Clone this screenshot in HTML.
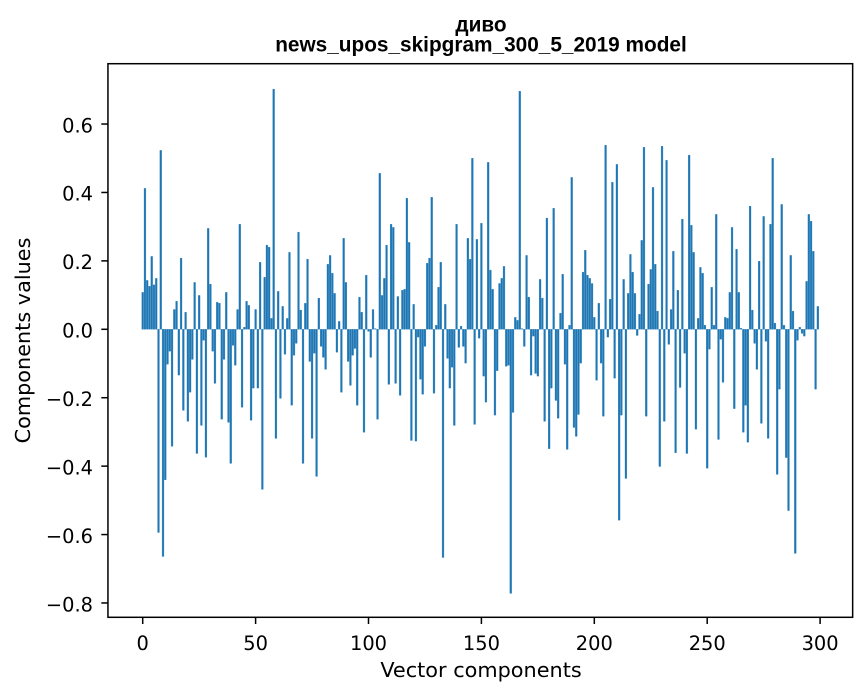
<!DOCTYPE html>
<html><head><meta charset="utf-8"><style>
html,body{margin:0;padding:0;background:#fff}
svg{display:block}
.t{font-family:"DejaVu Sans","Liberation Sans",sans-serif;font-size:19.4px;fill:#000}
.l{font-family:"DejaVu Sans","Liberation Sans",sans-serif;font-size:20.8px;fill:#000}
.ti{font-family:"Liberation Sans","DejaVu Sans",sans-serif;font-size:20.8px;font-weight:bold;fill:#000}
</style></head><body>
<svg width="867" height="696" viewBox="0 0 867 696" xmlns="http://www.w3.org/2000/svg">
<rect x="0" y="0" width="867" height="696" fill="#fff"/>
<g transform="translate(142.7,329.3) scale(2.258,-342.1)">
<path fill="#1f77b4" stroke="#1f77b4" stroke-width="0.3" vector-effect="non-scaling-stroke" d="
M-.4 0h.8v.108h-.8z M.6 0h.8v.412h-.8z M1.6 0h.8v.143h-.8z M2.6 0h.8v.126h-.8z M3.6 0h.8v.213h-.8z
M4.6 0h.8v.13h-.8z M5.6 0h.8v.149h-.8z M6.6 0h.8v-.594h-.8z M7.6 0h.8v.523h-.8z M8.6 0h.8v-.664h-.8z
M9.6 0h.8v-.44h-.8z M10.6 0h.8v-.102h-.8z M11.6 0h.8v-.064h-.8z M12.6 0h.8v-.342h-.8z M13.6 0h.8v.058h-.8z
M14.6 0h.8v.082h-.8z M15.6 0h.8v-.134h-.8z M16.6 0h.8v.208h-.8z M17.6 0h.8v-.237h-.8z M18.6 0h.8v.05h-.8z
M19.6 0h.8v-.269h-.8z M20.6 0h.8v-.184h-.8z M21.6 0h.8v-.088h-.8z M22.6 0h.8v.137h-.8z M23.6 0h.8v-.363h-.8z
M24.6 0h.8v.099h-.8z M25.6 0h.8v-.281h-.8z M26.6 0h.8v-.032h-.8z M27.6 0h.8v-.374h-.8z M28.6 0h.8v.295h-.8z
M29.6 0h.8v.132h-.8z M30.6 0h.8v-.064h-.8z M31.6 0h.8v-.158h-.8z M32.6 0h.8v.079h-.8z M33.6 0h.8v.076h-.8z
M34.6 0h.8v-.263h-.8z M35.6 0h.8v-.088h-.8z M36.6 0h.8v.108h-.8z M37.6 0h.8v-.272h-.8z M38.6 0h.8v-.392h-.8z
M39.6 0h.8v-.047h-.8z M40.6 0h.8v-.105h-.8z M41.6 0h.8v.058h-.8z M42.6 0h.8v.307h-.8z M43.6 0h.8v-.228h-.8z
M44.6 0h.8v.006h-.8z M45.6 0h.8v.082h-.8z M46.6 0h.8v.07h-.8z M47.6 0h.8v-.266h-.8z M48.6 0h.8v-.172h-.8z
M49.6 0h.8v.058h-.8z M50.6 0h.8v-.172h-.8z M51.6 0h.8v.196h-.8z M52.6 0h.8v-.468h-.8z M53.6 0h.8v.152h-.8z
M54.6 0h.8v.246h-.8z M55.6 0h.8v.24h-.8z M56.6 0h.8v.032h-.8z M57.6 0h.8v.702h-.8z M58.6 0h.8v-.319h-.8z
M59.6 0h.8v.111h-.8z M60.6 0h.8v-.202h-.8z M61.6 0h.8v.067h-.8z M62.6 0h.8v-.073h-.8z M63.6 0h.8v.032h-.8z
M64.6 0h.8v.225h-.8z M65.6 0h.8v-.222h-.8z M66.6 0h.8v-.076h-.8z M67.6 0h.8v-.041h-.8z M68.6 0h.8v.284h-.8z
M69.6 0h.8v.056h-.8z M70.6 0h.8v-.392h-.8z M71.6 0h.8v.076h-.8z M72.6 0h.8v.205h-.8z M73.6 0h.8v-.094h-.8z
M74.6 0h.8v-.319h-.8z M75.6 0h.8v-.07h-.8z M76.6 0h.8v-.43h-.8z M77.6 0h.8v.091h-.8z M78.6 0h.8v-.05h-.8z
M79.6 0h.8v-.082h-.8z M80.6 0h.8v-.117h-.8z M81.6 0h.8v.19h-.8z M82.6 0h.8v.216h-.8z M83.6 0h.8v.164h-.8z
M84.6 0h.8v.105h-.8z M85.6 0h.8v-.067h-.8z M86.6 0h.8v.023h-.8z M87.6 0h.8v-.184h-.8z M88.6 0h.8v.266h-.8z
M89.6 0h.8v.137h-.8z M90.6 0h.8v-.094h-.8z M91.6 0h.8v-.164h-.8z M92.6 0h.8v-.076h-.8z M93.6 0h.8v-.056h-.8z
M94.6 0h.8v-.222h-.8z M95.6 0h.8v.094h-.8z M96.6 0h.8v.05h-.8z M97.6 0h.8v-.301h-.8z M98.6 0h.8v.158h-.8z
M99.6 0h.8v-.006h-.8z M100.6 0h.8v-.082h-.8z M101.6 0h.8v.058h-.8z M102.6 0h.8v.002h-.8z M103.6 0h.8v-.263h-.8z
M104.6 0h.8v.456h-.8z M105.6 0h.8v.099h-.8z M106.6 0h.8v.149h-.8z M107.6 0h.8v.246h-.8z M108.6 0h.8v-.161h-.8z
M109.6 0h.8v.307h-.8z M110.6 0h.8v.298h-.8z M111.6 0h.8v-.158h-.8z M112.6 0h.8v.096h-.8z M113.6 0h.8v-.193h-.8z
M114.6 0h.8v.114h-.8z M115.6 0h.8v.117h-.8z M116.6 0h.8v.383h-.8z M117.6 0h.8v.254h-.8z M118.6 0h.8v-.325h-.8z
M119.6 0h.8v.073h-.8z M120.6 0h.8v-.327h-.8z M121.6 0h.8v-.023h-.8z M122.6 0h.8v-.146h-.8z M123.6 0h.8v-.19h-.8z
M124.6 0h.8v-.05h-.8z M125.6 0h.8v.193h-.8z M126.6 0h.8v.208h-.8z M127.6 0h.8v.386h-.8z M128.6 0h.8v-.187h-.8z
M129.6 0h.8v.012h-.8z M130.6 0h.8v.123h-.8z M131.6 0h.8v.196h-.8z M132.6 0h.8v-.667h-.8z M133.6 0h.8v.073h-.8z
M134.6 0h.8v-.085h-.8z M135.6 0h.8v-.172h-.8z M136.6 0h.8v-.111h-.8z M137.6 0h.8v-.281h-.8z M138.6 0h.8v.307h-.8z
M139.6 0h.8v-.053h-.8z M140.6 0h.8v.009h-.8z M141.6 0h.8v-.05h-.8z M142.6 0h.8v-.099h-.8z M143.6 0h.8v.266h-.8z
M144.6 0h.8v.205h-.8z M145.6 0h.8v.5h-.8z M146.6 0h.8v-.278h-.8z M147.6 0h.8v.263h-.8z M148.6 0h.8v-.026h-.8z
M149.6 0h.8v.31h-.8z M150.6 0h.8v-.137h-.8z M151.6 0h.8v-.213h-.8z M152.6 0h.8v.488h-.8z M153.6 0h.8v.173h-.8z
M154.6 0h.8v.117h-.8z M155.6 0h.8v-.251h-.8z M156.6 0h.8v-.121h-.8z M157.6 0h.8v.134h-.8z M158.6 0h.8v.149h-.8z
M159.6 0h.8v.184h-.8z M160.6 0h.8v-.108h-.8z M161.6 0h.8v-.105h-.8z M162.6 0h.8v-.772h-.8z M163.6 0h.8v-.243h-.8z
M164.6 0h.8v.035h-.8z M165.6 0h.8v.026h-.8z M166.6 0h.8v.696h-.8z M167.6 0h.8v.002h-.8z M168.6 0h.8v-.05h-.8z
M169.6 0h.8v.216h-.8z M170.6 0h.8v.094h-.8z M171.6 0h.8v-.134h-.8z M172.6 0h.8v-.02h-.8z M173.6 0h.8v-.129h-.8z
M174.6 0h.8v-.137h-.8z M175.6 0h.8v.146h-.8z M176.6 0h.8v.091h-.8z M177.6 0h.8v-.269h-.8z M178.6 0h.8v.325h-.8z
M179.6 0h.8v-.349h-.8z M180.6 0h.8v-.172h-.8z M181.6 0h.8v.354h-.8z M182.6 0h.8v-.208h-.8z M183.6 0h.8v-.26h-.8z
M184.6 0h.8v.047h-.8z M185.6 0h.8v.161h-.8z M186.6 0h.8v-.102h-.8z M187.6 0h.8v-.351h-.8z M188.6 0h.8v.012h-.8z
M189.6 0h.8v.444h-.8z M190.6 0h.8v-.287h-.8z M191.6 0h.8v-.313h-.8z M192.6 0h.8v-.249h-.8z M193.6 0h.8v-.099h-.8z
M194.6 0h.8v.167h-.8z M195.6 0h.8v.231h-.8z M196.6 0h.8v.158h-.8z M197.6 0h.8v.149h-.8z M198.6 0h.8v.134h-.8z
M199.6 0h.8v.035h-.8z M200.6 0h.8v-.149h-.8z M201.6 0h.8v.076h-.8z M202.6 0h.8v-.099h-.8z M203.6 0h.8v-.254h-.8z
M204.6 0h.8v.538h-.8z M205.6 0h.8v-.023h-.8z M206.6 0h.8v.088h-.8z M207.6 0h.8v.43h-.8z M208.6 0h.8v-.143h-.8z
M209.6 0h.8v.482h-.8z M210.6 0h.8v-.558h-.8z M211.6 0h.8v-.251h-.8z M212.6 0h.8v.146h-.8z M213.6 0h.8v-.436h-.8z
M214.6 0h.8v.105h-.8z M215.6 0h.8v.219h-.8z M216.6 0h.8v.167h-.8z M217.6 0h.8v.105h-.8z M218.6 0h.8v-.018h-.8z
M219.6 0h.8v.044h-.8z M220.6 0h.8v.26h-.8z M221.6 0h.8v.532h-.8z M222.6 0h.8v-.254h-.8z M223.6 0h.8v.132h-.8z
M224.6 0h.8v.175h-.8z M225.6 0h.8v.415h-.8z M226.6 0h.8v.19h-.8z M227.6 0h.8v.053h-.8z M228.6 0h.8v-.401h-.8z
M229.6 0h.8v.535h-.8z M230.6 0h.8v-.269h-.8z M231.6 0h.8v.494h-.8z M232.6 0h.8v-.044h-.8z M233.6 0h.8v.058h-.8z
M234.6 0h.8v.228h-.8z M235.6 0h.8v-.361h-.8z M236.6 0h.8v.114h-.8z M237.6 0h.8v-.17h-.8z M238.6 0h.8v.322h-.8z
M239.6 0h.8v-.07h-.8z M240.6 0h.8v-.363h-.8z M241.6 0h.8v.509h-.8z M242.6 0h.8v.304h-.8z M243.6 0h.8v.225h-.8z
M244.6 0h.8v-.292h-.8z M245.6 0h.8v.032h-.8z M246.6 0h.8v.181h-.8z M247.6 0h.8v.164h-.8z M248.6 0h.8v.012h-.8z
M249.6 0h.8v-.406h-.8z M250.6 0h.8v-.058h-.8z M251.6 0h.8v.123h-.8z M252.6 0h.8v.012h-.8z M253.6 0h.8v.336h-.8z
M254.6 0h.8v-.322h-.8z M255.6 0h.8v-.029h-.8z M256.6 0h.8v-.155h-.8z M257.6 0h.8v.035h-.8z M258.6 0h.8v.032h-.8z
M259.6 0h.8v.108h-.8z M260.6 0h.8v.298h-.8z M261.6 0h.8v-.232h-.8z M262.6 0h.8v.234h-.8z M263.6 0h.8v.108h-.8z
M264.6 0h.8v.003h-.8z M265.6 0h.8v-.301h-.8z M266.6 0h.8v-.222h-.8z M267.6 0h.8v-.33h-.8z M268.6 0h.8v.36h-.8z
M269.6 0h.8v.056h-.8z M270.6 0h.8v-.041h-.8z M271.6 0h.8v-.117h-.8z M272.6 0h.8v.199h-.8z M273.6 0h.8v-.275h-.8z
M274.6 0h.8v.33h-.8z M275.6 0h.8v-.035h-.8z M276.6 0h.8v-.319h-.8z M277.6 0h.8v.307h-.8z M278.6 0h.8v.5h-.8z
M279.6 0h.8v.018h-.8z M280.6 0h.8v-.424h-.8z M281.6 0h.8v-.175h-.8z M282.6 0h.8v.365h-.8z M283.6 0h.8v.012h-.8z
M284.6 0h.8v-.375h-.8z M285.6 0h.8v-.53h-.8z M286.6 0h.8v.216h-.8z M287.6 0h.8v.053h-.8z M288.6 0h.8v-.655h-.8z
M289.6 0h.8v-.032h-.8z M290.6 0h.8v.006h-.8z M291.6 0h.8v-.012h-.8z M292.6 0h.8v-.02h-.8z M293.6 0h.8v.14h-.8z
M294.6 0h.8v.336h-.8z M295.6 0h.8v.316h-.8z M296.6 0h.8v.228h-.8z M297.6 0h.8v-.175h-.8z M298.6 0h.8v.067h-.8z"/>
</g>
<!-- spines -->
<rect x="107.95" y="63.7" width="744.7" height="553.6" fill="none" stroke="#000" stroke-width="1.5"/>
<!-- ticks -->
<g stroke="#000" stroke-width="1.5">
<line x1="142.7" y1="617.3" x2="142.7" y2="624"/>
<line x1="255.6" y1="617.3" x2="255.6" y2="624"/>
<line x1="368.5" y1="617.3" x2="368.5" y2="624"/>
<line x1="481.4" y1="617.3" x2="481.4" y2="624"/>
<line x1="594.3" y1="617.3" x2="594.3" y2="624"/>
<line x1="707.2" y1="617.3" x2="707.2" y2="624"/>
<line x1="820.1" y1="617.3" x2="820.1" y2="624"/>
<line x1="101.3" y1="124.04" x2="107.95" y2="124.04"/>
<line x1="101.3" y1="192.46" x2="107.95" y2="192.46"/>
<line x1="101.3" y1="260.88" x2="107.95" y2="260.88"/>
<line x1="101.3" y1="329.3" x2="107.95" y2="329.3"/>
<line x1="101.3" y1="397.72" x2="107.95" y2="397.72"/>
<line x1="101.3" y1="466.14" x2="107.95" y2="466.14"/>
<line x1="101.3" y1="534.56" x2="107.95" y2="534.56"/>
<line x1="101.3" y1="602.98" x2="107.95" y2="602.98"/>
</g>
<g class="t" text-anchor="middle">
<text x="142.7" y="650">0</text>
<text x="255.6" y="650">50</text>
<text x="368.5" y="650">100</text>
<text x="481.4" y="650">150</text>
<text x="594.3" y="650">200</text>
<text x="707.2" y="650">250</text>
<text x="820.1" y="650">300</text>
</g>
<g class="t" text-anchor="end">
<text x="93" y="132.3">0.6</text>
<text x="93" y="200.7">0.4</text>
<text x="93" y="269.2">0.2</text>
<text x="93" y="337.6">0.0</text>
<text x="93" y="406">−0.2</text>
<text x="93" y="474.4">−0.4</text>
<text x="93" y="542.9">−0.6</text>
<text x="93" y="611.3">−0.8</text>
</g>
<text class="l" x="481" y="677" text-anchor="middle">Vector components</text>
<text class="l" x="30" y="340.5" text-anchor="middle" transform="rotate(-90 30 340.5)">Components values</text>
<text class="ti" x="481" y="31.5" text-anchor="middle">диво</text>
<text class="ti" x="481" y="51.5" text-anchor="middle">news_upos_skipgram_300_5_2019 model</text>
</svg>
</body></html>
